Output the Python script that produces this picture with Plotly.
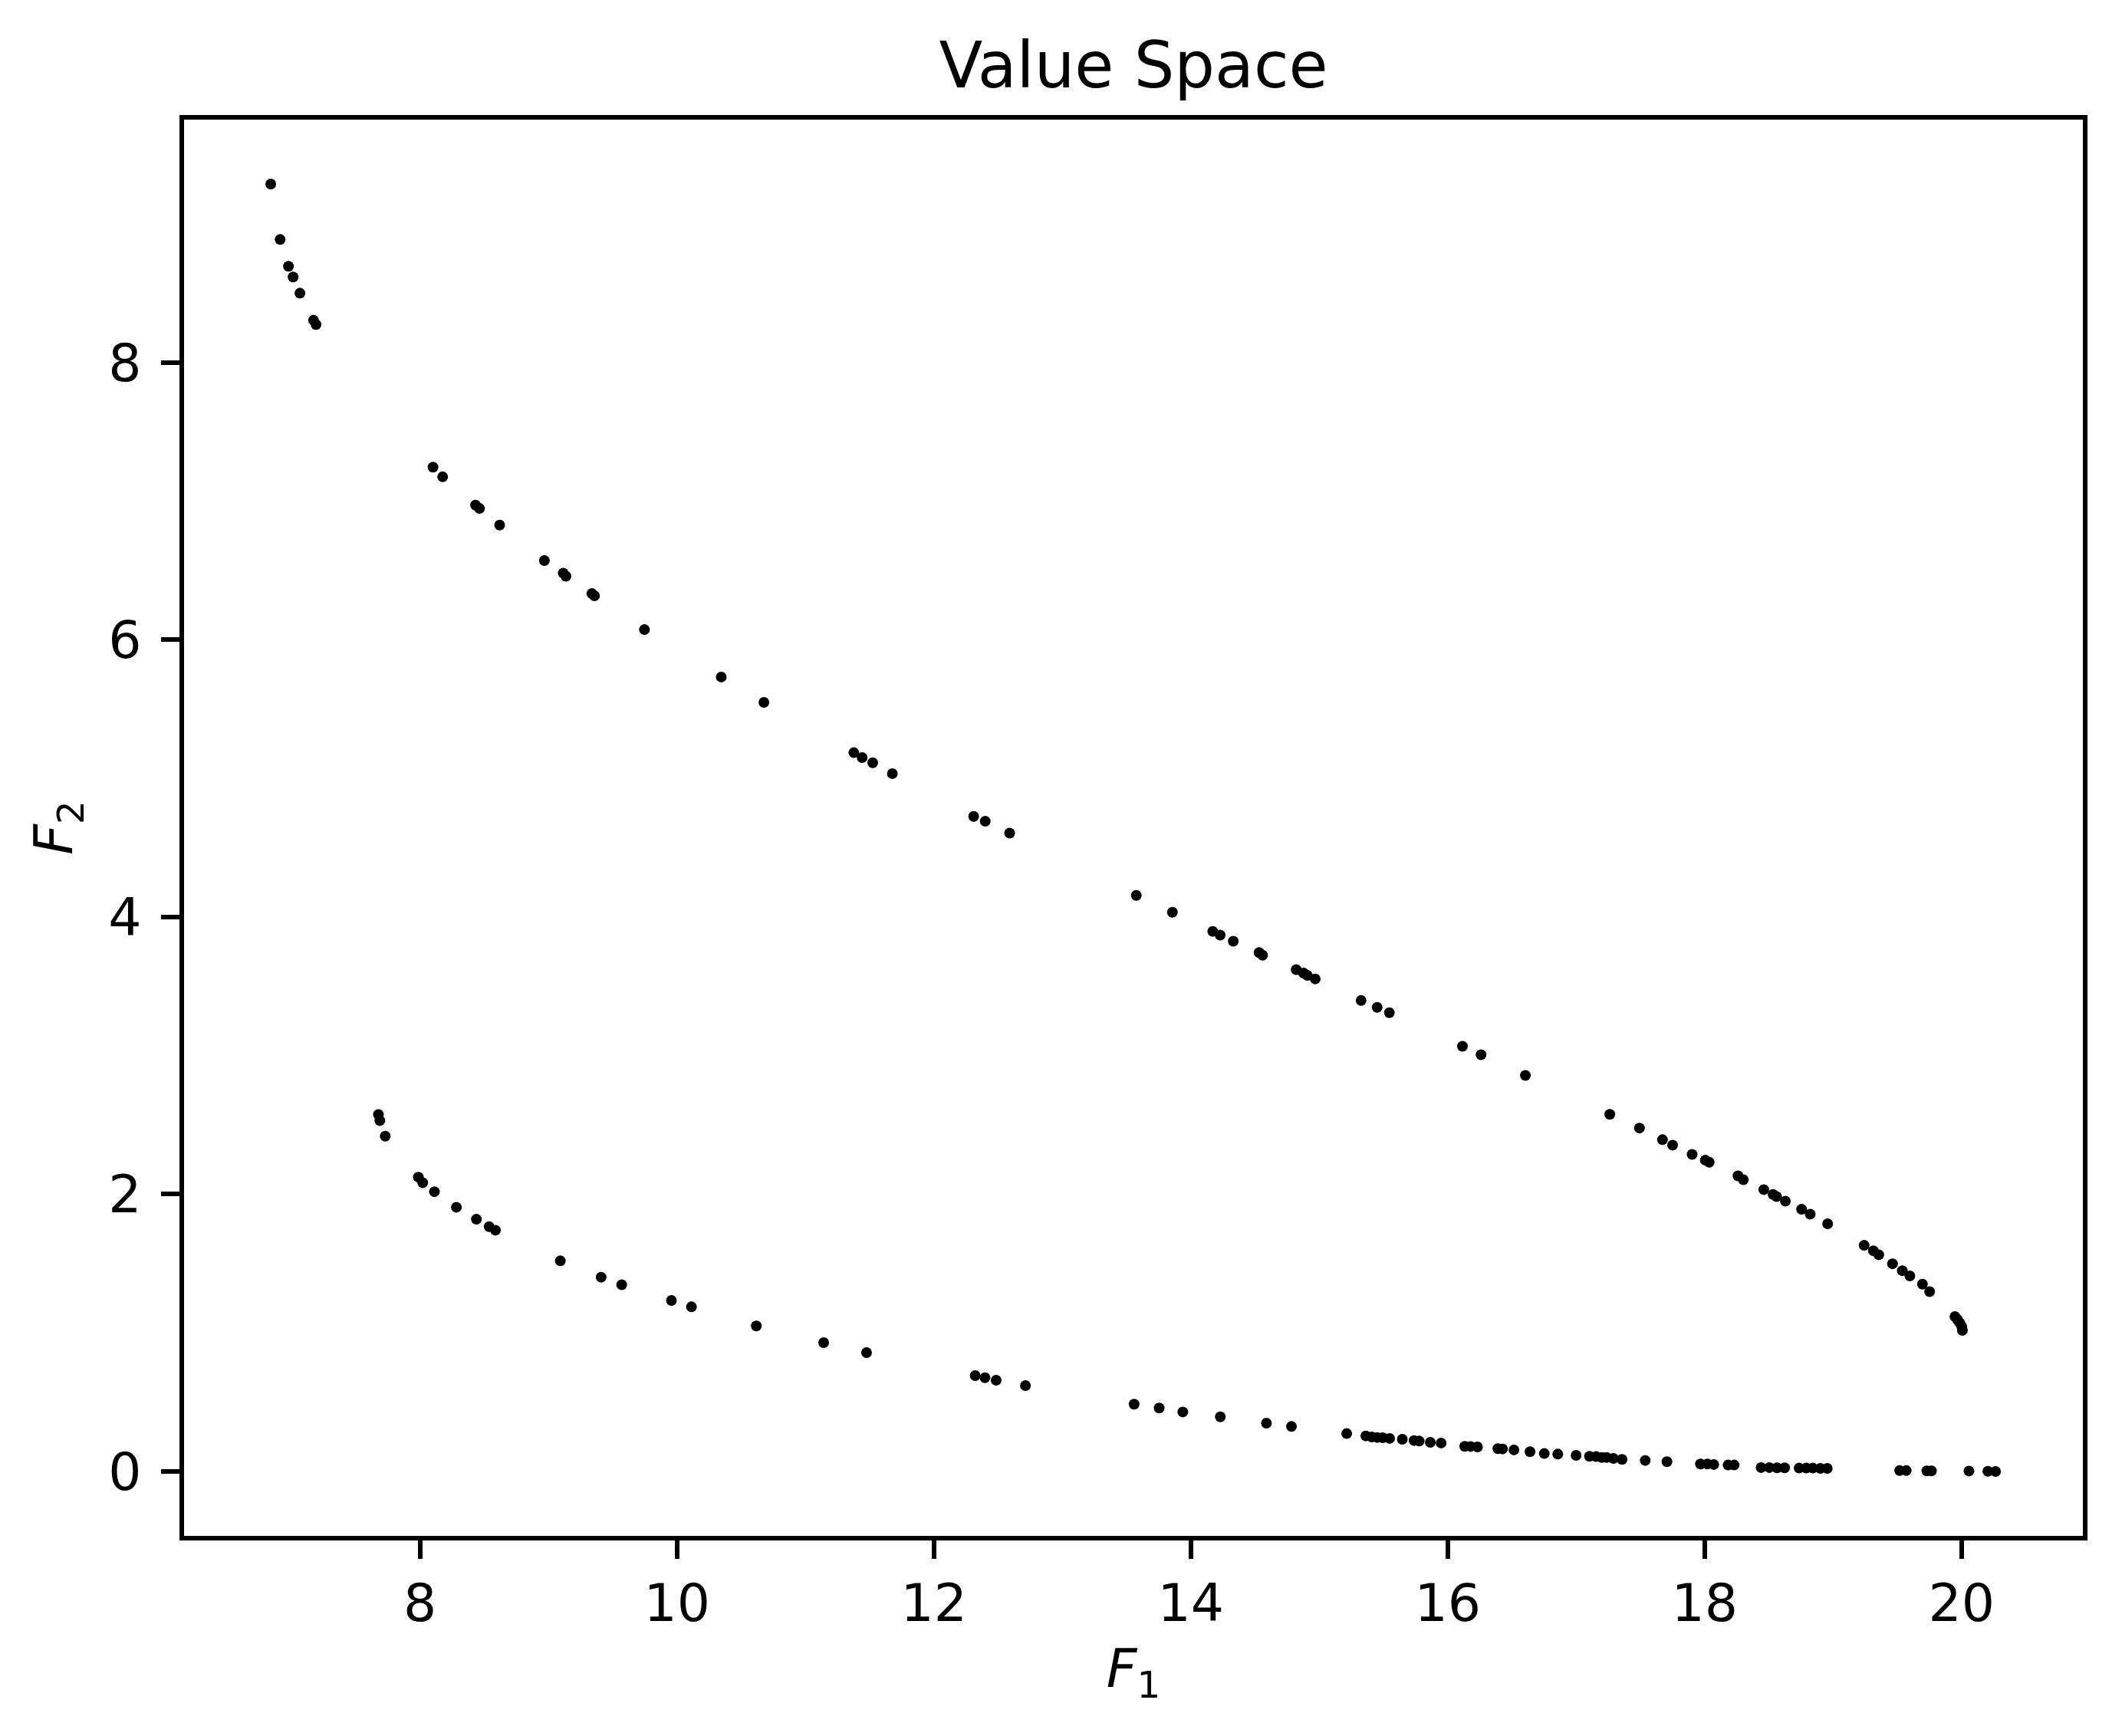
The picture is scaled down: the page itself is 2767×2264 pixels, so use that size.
import plotly.graph_objects as go

# upper branch (top-left)
upper_f1 = [6.838, 6.911, 6.976, 7.012, 7.065, 7.171, 7.190]
upper_f2 = [9.287, 8.887, 8.694, 8.617, 8.500, 8.305, 8.274]

# middle branch
middle_f1 = [8.101, 8.176, 8.432, 8.463, 8.620, 8.968, 9.115, 9.136, 9.338, 9.358,
             9.747, 10.345, 10.677, 11.377, 11.442, 11.524, 11.677,
             12.310, 12.400, 12.590,
             13.576, 13.857, 14.171, 14.229, 14.331, 14.532, 14.559, 14.821, 14.878,
             14.908, 14.969, 15.326, 15.451, 15.546, 16.115, 16.260, 16.605,
             17.262, 17.493, 17.672, 17.751, 17.903, 18.006, 18.036, 18.260, 18.302,
             18.461, 18.533, 18.560, 18.629, 18.755, 18.822, 18.958,
             19.242, 19.314, 19.356, 19.463, 19.539, 19.598, 19.696, 19.752,
             19.949, 19.967, 19.986, 20.002, 20.007]
middle_f2 = [7.245, 7.175, 6.971, 6.947, 6.827, 6.571, 6.480, 6.458, 6.333, 6.317,
             6.073, 5.731, 5.548, 5.185, 5.150, 5.112, 5.034,
             4.725, 4.690, 4.605,
             4.155, 4.034, 3.896, 3.869, 3.825, 3.743, 3.724, 3.620, 3.595,
             3.578, 3.553, 3.397, 3.348, 3.309, 3.067, 3.006, 2.857,
             2.576, 2.477, 2.393, 2.354, 2.287, 2.245, 2.230, 2.132, 2.104,
             2.033, 1.998, 1.983, 1.949, 1.891, 1.856, 1.786,
             1.631, 1.592, 1.563, 1.498, 1.448, 1.410, 1.351, 1.297,
             1.117, 1.096, 1.072, 1.045, 1.017]

# lower branch
lower_f1 = [7.676, 7.687, 7.729, 7.987, 8.021, 8.112, 8.283, 8.439, 8.538, 8.587,
            9.092, 9.410, 9.570, 9.957, 10.113, 10.618, 11.142, 11.476,
            12.322, 12.398, 12.485, 12.713,
            13.559, 13.754, 13.938, 14.230, 14.589, 14.784,
            15.214, 15.363, 15.409, 15.452, 15.494, 15.548, 15.647, 15.738, 15.778,
            15.865, 15.949, 16.133, 16.179, 16.232, 16.391, 16.427, 16.516, 16.641,
            16.752, 16.857, 17.000, 17.104, 17.155, 17.199, 17.238, 17.290, 17.357,
            17.538, 17.707, 17.968, 18.022, 18.071, 18.183, 18.230,
            18.440, 18.504, 18.564, 18.623, 18.736, 18.792, 18.842, 18.901, 18.955,
            19.518, 19.570, 19.730, 19.766, 20.058, 20.205, 20.265]
lower_f2 = [2.575, 2.531, 2.418, 2.123, 2.083, 2.018, 1.906, 1.819, 1.766, 1.740,
            1.519, 1.401, 1.347, 1.233, 1.187, 1.049, 0.929, 0.857,
            0.691, 0.676, 0.658, 0.619,
            0.485, 0.457, 0.429, 0.394, 0.348, 0.324,
            0.273, 0.256, 0.249, 0.245, 0.243, 0.238, 0.232, 0.223, 0.219,
            0.210, 0.205, 0.181, 0.180, 0.177, 0.164, 0.162, 0.155, 0.142,
            0.129, 0.125, 0.116, 0.109, 0.107, 0.101, 0.100, 0.094, 0.087,
            0.079, 0.070, 0.054, 0.054, 0.050, 0.046, 0.046,
            0.028, 0.028, 0.026, 0.026, 0.024, 0.024, 0.024, 0.022, 0.022,
            0.006, 0.006, 0.004, 0.004, 0.003, 0.001, 0.000]

x_ticks = [8, 10, 12, 14, 16, 18, 20]
y_ticks = [0, 2, 4, 6, 8]

f1 = upper_f1 + middle_f1 + lower_f1
f2 = upper_f2 + middle_f2 + lower_f2

fig = go.Figure(
    go.Scatter(
        x=f1,
        y=f2,
        mode="markers",
        marker=dict(color="black", size=14, line=dict(width=0)),
        showlegend=False,
    )
)

font = "DejaVu Sans"
axis_style = dict(
    showgrid=False,
    zeroline=False,
    showline=True,
    mirror=True,
    linecolor="black",
    linewidth=5.6,
    ticks="outside",
    ticklen=24,
    tickwidth=5.6,
    tickcolor="black",
    tickfont=dict(family=font, size=68, color="black"),
    automargin=False,
)

# page body has an 8px margin, so the figure is drawn 16px smaller
fig.update_layout(
    width=2751,
    height=2248,
    margin=dict(l=232, r=43, t=148, b=253),
    paper_bgcolor="white",
    plot_bgcolor="white",
    title=dict(
        text="Value Space",
        font=dict(family=font, size=83, color="black"),
        x=0.5, xref="paper", xanchor="center",
        y=1, yref="paper", yanchor="bottom",
        pad=dict(b=42),
    ),
)
fig.update_xaxes(
    axis_style,
    range=[6.163, 20.945],
    tickvals=x_ticks,
    title=dict(text="<i>F</i><sub>1</sub>", font=dict(family=font, size=69, color="black"), standoff=24),
)
fig.update_yaxes(
    axis_style,
    range=[-0.465, 9.752],
    tickvals=y_ticks,
    ticklabelstandoff=12,
    title=dict(text="<i>F</i><sub>2</sub>", font=dict(family=font, size=69, color="black"), standoff=26),
)

fig.write_html("out.html")
